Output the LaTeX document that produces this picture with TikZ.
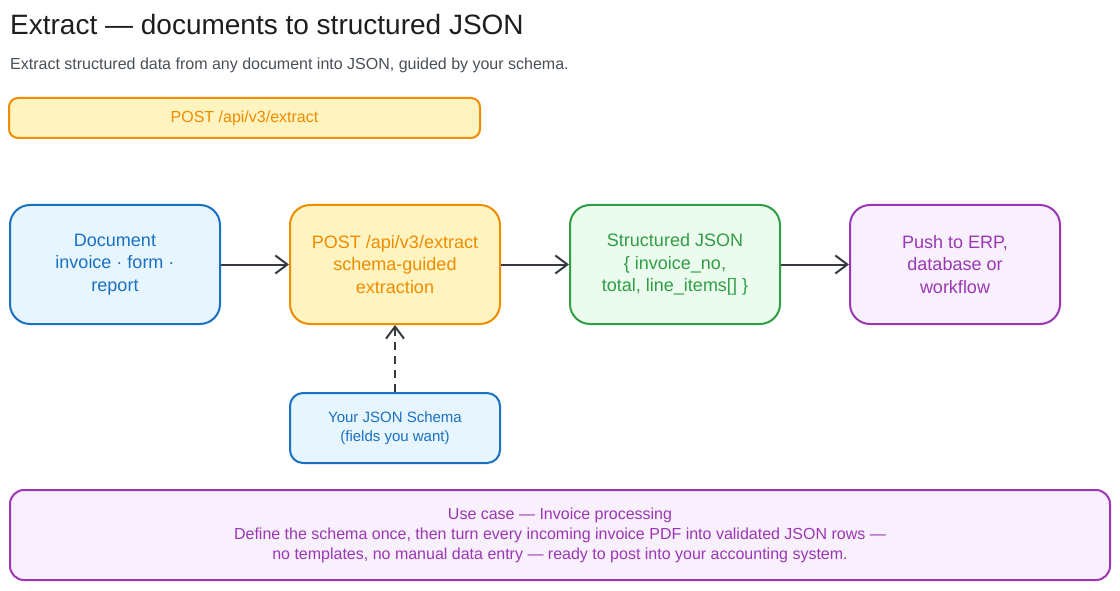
\documentclass[tikz,border=0pt]{standalone}
\usepackage{fontspec}
\setmainfont{Liberation Sans}
\usetikzlibrary{arrows.meta}
\definecolor{ink}{HTML}{1E1E1E}
\definecolor{subgray}{HTML}{495057}
\definecolor{bluestroke}{HTML}{1971C2}
\definecolor{bluefill}{HTML}{E7F5FF}
\definecolor{orangestroke}{HTML}{F08C00}
\definecolor{orangefill}{HTML}{FFF3BF}
\definecolor{greenstroke}{HTML}{2F9E44}
\definecolor{greenfill}{HTML}{EBFBEE}
\definecolor{purplestroke}{HTML}{9C36B5}
\definecolor{purplefill}{HTML}{F8F0FC}
\definecolor{arrowgray}{HTML}{343A40}
\tikzset{
  box/.style={draw, line width=2pt, rounded corners=20pt, minimum width=210pt, minimum height=119pt, align=center, inner sep=4pt, font=\fontsize{18}{22.5}\selectfont},
  bluebox/.style={box, draw=bluestroke, fill=bluefill, text=bluestroke},
  orangebox/.style={box, draw=orangestroke, fill=orangefill, text=orangestroke},
  greenbox/.style={box, draw=greenstroke, fill=greenfill, text=greenstroke},
  purplebox/.style={box, draw=purplestroke, fill=purplefill, text=purplestroke},
  flow/.style={draw=arrowgray, line width=2pt, -{Straight Barb[length=12pt,width=18pt,line width=2pt]}},
}
\begin{document}
\begin{tikzpicture}[x=1pt,y=-1pt]
\useasboundingbox (0,0) rectangle (1120,591);
\fill[white] (0,0) rectangle (1120,591);
\node[anchor=base west, text=ink, font=\fontsize{28}{32}\selectfont, inner sep=0] (title) at (10,35) {Extract — documents to structured JSON};
\node[anchor=base west, text=subgray, font=\fontsize{16}{19}\selectfont, inner sep=0] (sub) at (10,70) {Extract structured data from any document into JSON, guided by your schema.};
\node[draw=orangestroke, fill=orangefill, text=orangestroke, line width=2pt, rounded corners=9pt, minimum width=471pt, minimum height=40pt, font=\fontsize{16}{19}\selectfont] (bar) at (244.5,118) {POST /api/v3/extract};
\node[bluebox] (doc) at (115,264.5) {Document\\invoice · form ·\\report};
\node[orangebox] (api) at (395,264.5) {POST /api/v3/extract\\schema-guided\\extraction};
\node[greenbox] (json) at (675,264.5) {Structured JSON\\\{ invoice\_no,\\total, line\_items[] \}};
\node[purplebox] (push) at (955,264.5) {Push to ERP,\\database or\\workflow};
\node[bluebox, minimum height=70pt, rounded corners=13pt, font=\fontsize{15}{19}\selectfont] (schema) at (395,428) {Your JSON Schema\\(fields you want)};
\node[draw=purplestroke, fill=purplefill, text=purplestroke, line width=2pt, rounded corners=14pt, minimum width=1100pt, minimum height=90pt, align=center, font=\fontsize{16}{20}\selectfont] (usecase) at (560,535) {Use case — Invoice processing\\Define the schema once, then turn every incoming invoice PDF into validated JSON rows —\\no templates, no manual data entry — ready to post into your accounting system.};
\draw[flow] (doc) -- (api);
\draw[flow] (api) -- (json);
\draw[flow] (json) -- (push);
\draw[flow, dashed, dash pattern=on 8pt off 6pt] (schema) -- (api);
\end{tikzpicture}
\end{document}
